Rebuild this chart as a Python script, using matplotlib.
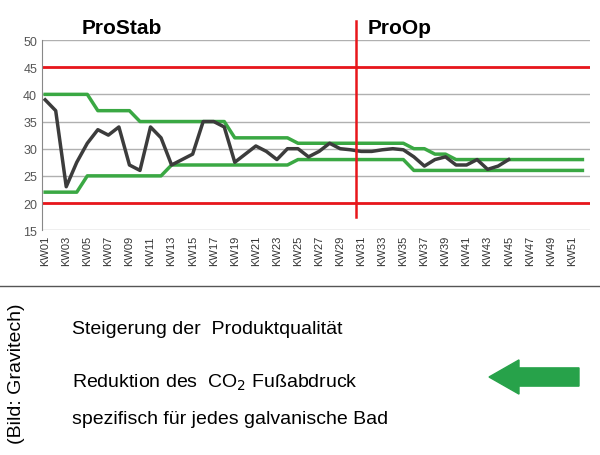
import matplotlib
matplotlib.use("Agg")
import matplotlib.pyplot as plt
from matplotlib.patches import FancyArrow

plt.rcParams["font.family"] = "Liberation Sans"

weeks = [f"KW{i:02d}" for i in range(1, 53)]
actual = [39, 37, 23, 27.5, 31, 33.5, 32.5, 34, 27, 26, 34, 32, 27, 28, 29, 35, 35, 34,
          27.5, 29, 30.5, 29.5, 28, 30, 30, 28.5, 29.5, 31, 30, 29.8, 29.5, 29.5, 29.8, 30,
          29.8, 28.5, 26.8, 28, 28.5, 27, 27, 28, 26.2, 26.8, 28]
upper = [40]*5 + [37]*4 + [35]*9 + [32]*6 + [31]*11 + [30]*2 + [29]*2 + [28]*13
lower = [22]*4 + [25]*8 + [27]*12 + [28]*11 + [26]*17
limit_hi, limit_lo = 45, 20
split_pos = 29.5

fig = plt.figure(figsize=(6, 4.56), dpi=100)
ax = fig.add_axes([0.07, 0.493, 0.913, 0.417])
x = list(range(52))
ax.set_xlim(-0.3, 51.7)
ax.set_ylim(15, 50)
ax.set_yticks(range(15, 51, 5))
ax.grid(axis="y", color="#b0b0b0", lw=1)
ax.set_axisbelow(True)
for s in ["top", "right", "bottom"]:
    ax.spines[s].set_visible(False)
ax.spines["left"].set_color("#888888")
ax.tick_params(axis="y", labelsize=9, colors="#555555", length=0)
ax.set_xticks(x[::2])
ax.set_xticklabels(weeks[::2], rotation=90, fontsize=8, color="#333333")
ax.tick_params(axis="x", length=0)
ax.axhline(limit_hi, color="#e8161b", lw=2)
ax.axhline(limit_lo, color="#e8161b", lw=2)
ax.plot(x, upper, color="#3aa843", lw=2.5)
ax.plot(x, lower, color="#3aa843", lw=2.5)
ax.plot(x[:len(actual)], actual, color="#3c3c3c", lw=2.5)
ax.plot([split_pos, split_pos], [17.5, 53.5], color="#e8161b", lw=1.8, clip_on=False)
ax.text(3.5, 52.3, "ProStab", fontsize=15, fontweight="bold", ha="left", va="center")
ax.text(30.6, 52.3, "ProOp", fontsize=15, fontweight="bold", ha="left", va="center")

fig.add_artist(plt.Line2D([0, 1], [1-287/456, 1-287/456], color="#555555", lw=1))
fig.text(0.028, 0.18, "(Bild: Gravitech)", rotation=90, fontsize=14, va="center", ha="center")
fig.text(0.12, 1-330/456, "Steigerung der  Produktqualität", fontsize=14, va="center")
fig.text(0.12, 1-383/456, "Reduktion des  CO$_2$ Fußabdruck", fontsize=14, va="center")
fig.text(0.12, 1-420/456, "spezifisch für jedes galvanische Bad", fontsize=14, va="center")
fig.add_artist(FancyArrow(0.965, 1-378/456, -0.1, 0, width=0.04, head_width=0.075,
                          head_length=0.05, color="#27a24a", transform=fig.transFigure))
fig.savefig("out.png", dpi=100)
